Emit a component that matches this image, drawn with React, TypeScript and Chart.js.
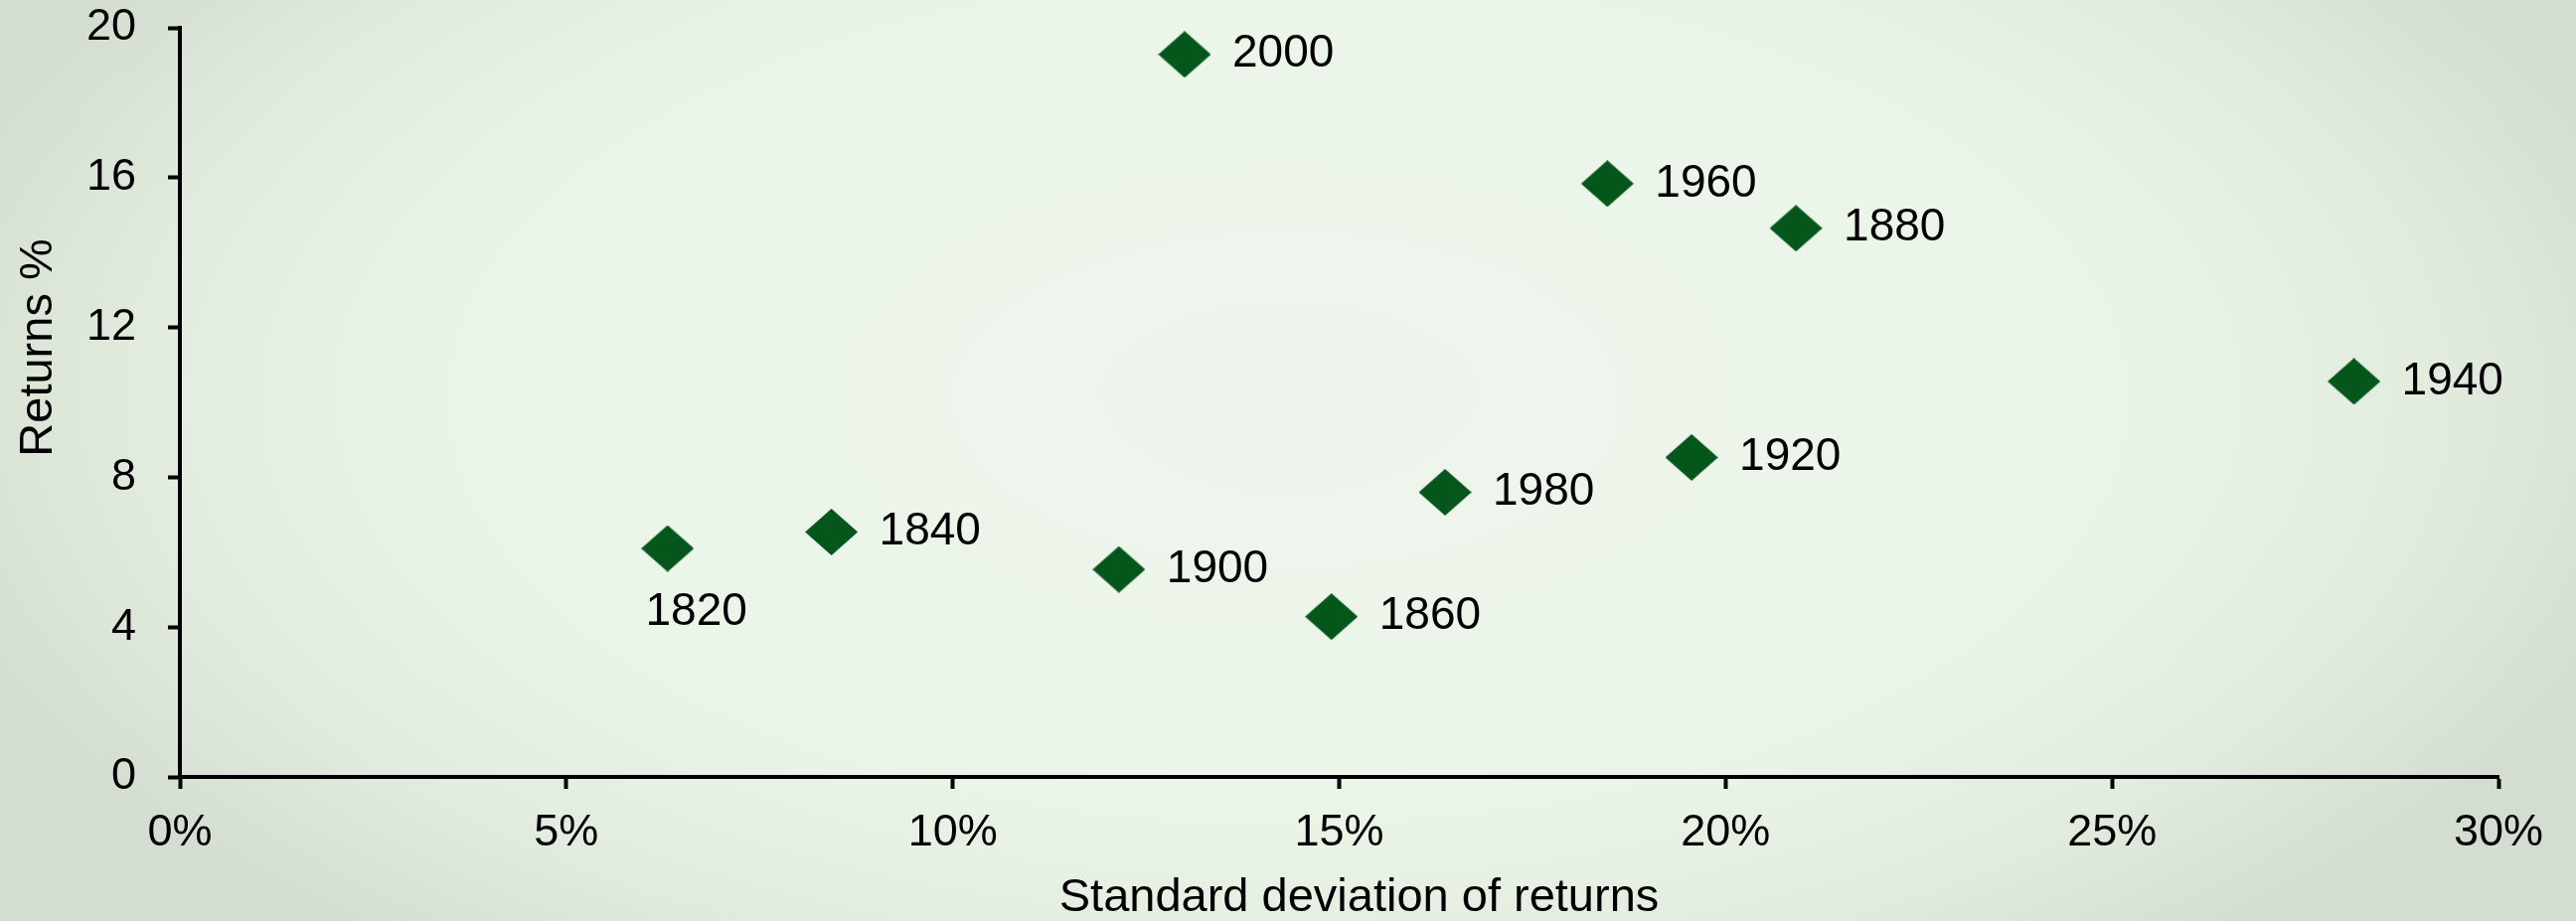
import React, { useEffect, useRef } from "react";
import { Chart, registerables } from "chart.js";

Chart.register(...registerables);

// Twenty-year periods, their volatility (x, %) and average returns (y, %)
const periods = ["1820", "1840", "1860", "1880", "1900", "1920", "1940", "1960", "1980", "2000"];
const stdDevPct = [6.31, 8.43, 14.9, 20.91, 12.15, 19.56, 28.13, 18.47, 16.37, 13.0];
const returnsPct = [6.1, 6.54, 4.28, 14.65, 5.54, 8.53, 10.56, 15.84, 7.6, 19.29];

// Axis settings
const xTickValues = [0, 5, 10, 15, 20, 25, 30];
const yTickValues = [0, 4, 8, 12, 16, 20];
const xTitle = "Standard deviation of returns";
const yTitle = "Returns %";

// Periods whose label sits under the marker instead of to its right
const labelsBelow = new Set(["1820"]);

const FONT = "'Liberation Sans', Arial, sans-serif";
const MARKER_COLOR = "#05561a";

function makeDiamond(): HTMLCanvasElement {
  const w = 53;
  const h = 47;
  const c = document.createElement("canvas");
  c.width = w;
  c.height = h;
  const ctx = c.getContext("2d")!;
  ctx.fillStyle = MARKER_COLOR;
  ctx.beginPath();
  ctx.moveTo(w / 2, 0);
  ctx.lineTo(w, h / 2);
  ctx.lineTo(w / 2, h);
  ctx.lineTo(0, h / 2);
  ctx.closePath();
  ctx.fill();
  return c;
}

const pointLabels = {
  id: "pointLabels",
  afterDatasetsDraw(chart: any) {
    const ctx = chart.ctx;
    const meta = chart.getDatasetMeta(0);
    ctx.save();
    ctx.fillStyle = "#000";
    ctx.font = `46px ${FONT}`;
    ctx.textBaseline = "middle";
    meta.data.forEach((pt: any, i: number) => {
      const label = periods[i];
      if (labelsBelow.has(label)) {
        ctx.textAlign = "center";
        ctx.fillText(label, pt.x + 29, pt.y + 64);
      } else {
        ctx.textAlign = "left";
        ctx.fillText(label, pt.x + 48, pt.y);
      }
    });
    ctx.restore();
  },
};

const axisTitles = {
  id: "axisTitles",
  afterDraw(chart: any) {
    const ctx = chart.ctx;
    const area = chart.chartArea;
    ctx.save();
    ctx.fillStyle = "#000";
    ctx.font = `47px ${FONT}`;
    ctx.textAlign = "center";
    ctx.textBaseline = "middle";
    ctx.fillText(xTitle, (area.left + area.right) / 2 + 20, chart.height - 23);
    ctx.translate(39, area.top + (area.bottom - area.top) * 0.427);
    ctx.rotate(-Math.PI / 2);
    ctx.fillText(yTitle, 0, 0);
    ctx.restore();
  },
};

export default function App() {
  const canvasRef = useRef<HTMLCanvasElement | null>(null);

  useEffect(() => {
    if (!canvasRef.current) return;
    const diamond = makeDiamond();
    const points = periods.map((_, i) => ({ x: stdDevPct[i], y: returnsPct[i] }));

    const chart = new Chart(canvasRef.current, {
      type: "scatter",
      data: {
        datasets: [
          {
            label: "Periods",
            data: points,
            pointStyle: diamond as any,
            pointRadius: 27,
            backgroundColor: MARKER_COLOR,
            borderColor: MARKER_COLOR,
          },
        ],
      },
      options: {
        animation: false,
        responsive: false,
        maintainAspectRatio: false,
        layout: { padding: { top: 27, right: 78, left: 0, bottom: 0 } },
        plugins: {
          legend: { display: false },
          tooltip: { enabled: false },
        },
        scales: {
          x: {
            type: "linear",
            min: 0,
            max: 30,
            afterFit: (scale: any) => {
              scale.height = 145;
            },
            afterBuildTicks: (scale: any) => {
              scale.ticks = xTickValues.map((v) => ({ value: v }));
            },
            ticks: {
              color: "#000",
              font: { family: FONT, size: 45 },
              padding: 18,
              maxRotation: 0,
              autoSkip: false,
              callback: (v: any) => `${v}%`,
            },
            grid: {
              display: true,
              drawOnChartArea: false,
              drawTicks: true,
              tickLength: 12,
              tickWidth: 4,
              tickColor: "#000",
            },
            border: { display: true, color: "#000", width: 4 },
          },
          y: {
            type: "linear",
            min: 0,
            max: 20,
            afterFit: (scale: any) => {
              scale.width = 181;
              scale.paddingTop = 0;
              scale.paddingBottom = 0;
            },
            afterBuildTicks: (scale: any) => {
              scale.ticks = yTickValues.map((v) => ({ value: v }));
            },
            ticks: {
              color: "#000",
              font: { family: FONT, size: 45 },
              padding: 32,
              autoSkip: false,
              callback: (v: any) => `${v}`,
            },
            grid: {
              display: true,
              drawOnChartArea: false,
              drawTicks: true,
              tickLength: 12,
              tickWidth: 4,
              tickColor: "#000",
            },
            border: { display: true, color: "#000", width: 4 },
          },
        },
      },
      plugins: [pointLabels, axisTitles],
    });

    return () => chart.destroy();
  }, []);

  return (
    <div
      style={{
        position: "fixed",
        left: 0,
        top: 0,
        width: 2592,
        height: 927,
        background:
          "radial-gradient(ellipse 1420px 720px at 1296px 400px, #eef4ed 0%, #edf5eb 30%, #eaf5e7 58%, #e2ecdf 80%, #d3ded1 100%)",
      }}
    >
      <canvas ref={canvasRef} width={2592} height={927} style={{ display: "block" }} />
    </div>
  );
}
